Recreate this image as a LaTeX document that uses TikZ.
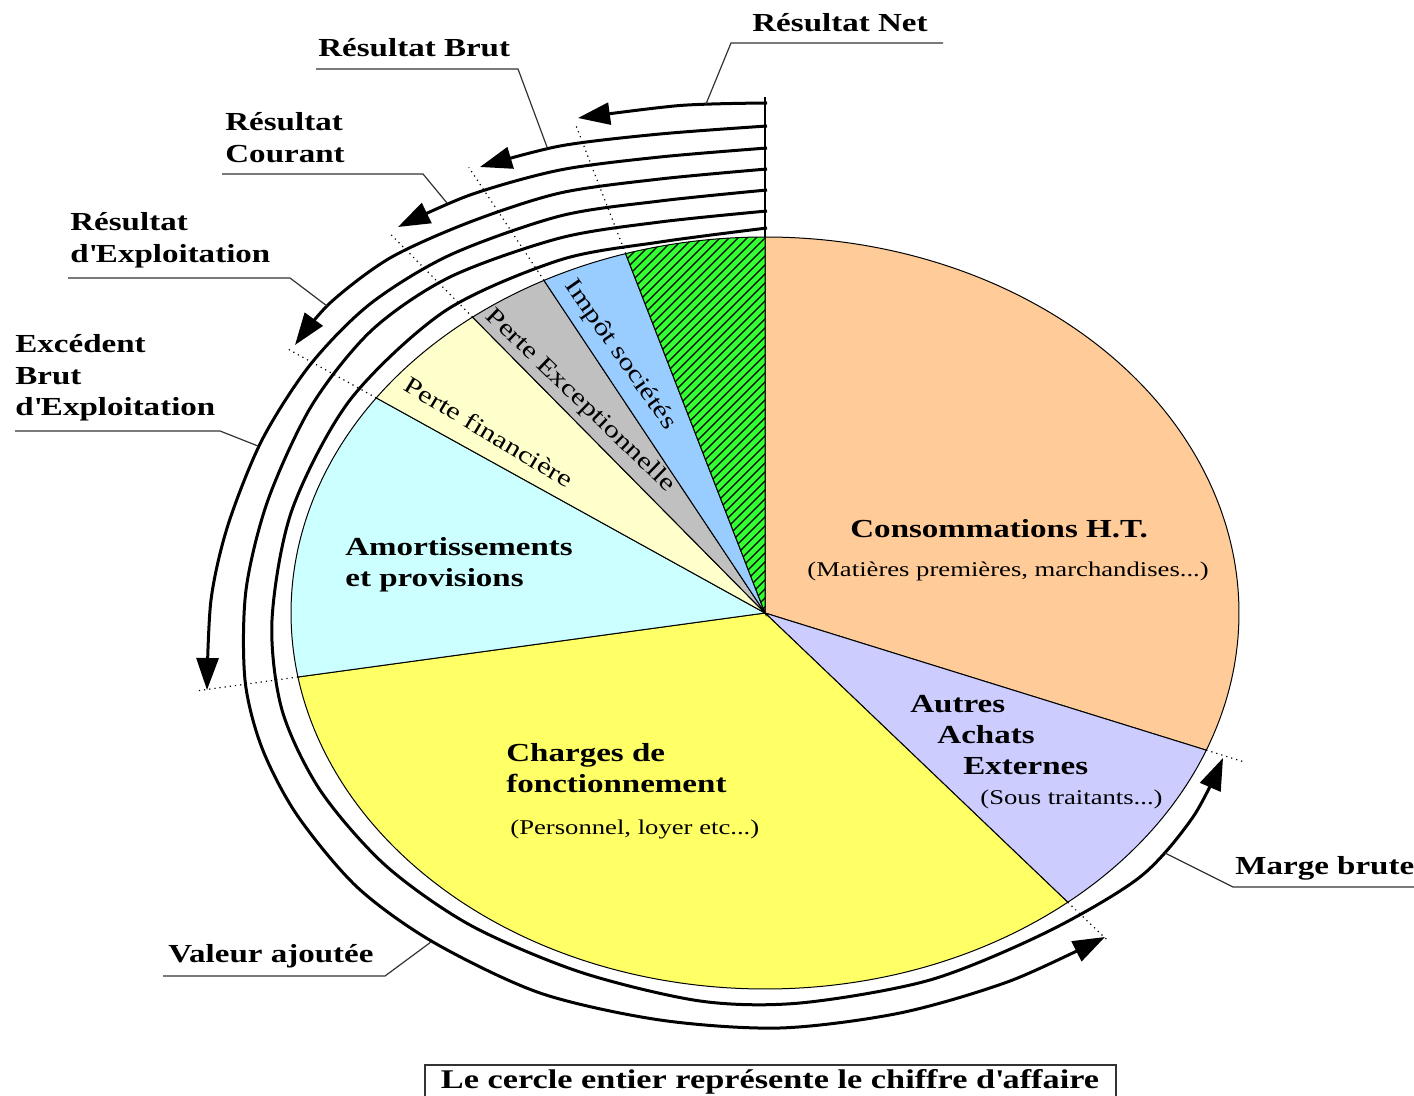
\documentclass[tikz,border=0pt]{standalone}
\usepackage{fontspec}
\setmainfont{Liberation Serif}[FakeStretch=1.27]
\usetikzlibrary{arrows.meta,calc}
\definecolor{cons}{RGB}{255,204,153}
\definecolor{autres}{RGB}{204,204,255}
\definecolor{charges}{RGB}{255,255,102}
\definecolor{amort}{RGB}{204,255,255}
\definecolor{pfin}{RGB}{255,255,204}
\definecolor{pexc}{RGB}{192,192,192}
\definecolor{impot}{RGB}{153,204,255}
\definecolor{netgreen}{RGB}{51,255,51}
\newcommand\mySlice[3]{\filldraw[slice,fill=#3] (C) -- +(#1:474 and 376) arc[start angle=#1,end angle=#2,x radius=474,y radius=376] -- cycle;}
\begin{document}
\begin{tikzpicture}[x=0.5pt,y=-0.5pt,
  slice/.style={draw=black, line width=0.5pt},
  flux/.style={line width=1.5pt, -{Triangle[length=16pt,width=11pt]}},
  ext/.style={dotted, line width=0.6pt},
  leader/.style={line width=0.6pt, draw=black!80},
  lbl/.style={anchor=base west, inner sep=0pt, font=\bfseries\fontsize{13}{15}\selectfont},
  sub/.style={anchor=base west, inner sep=0pt, font=\fontsize{10.5}{12}\selectfont},
  rot/.style={inner sep=0pt, font=\fontsize{12}{14}\selectfont},
]
\useasboundingbox (0,0) rectangle (1414,1096);
\coordinate (C) at (765,613);

% ---- pie slices
\mySlice{-90}{21.4}{cons}
\mySlice{21.4}{50.3}{autres}
\mySlice{50.3}{170.2}{charges}
\mySlice{170.2}{214.9}{amort}
\mySlice{214.9}{231.9}{pfin}
\mySlice{231.9}{242.2}{pexc}
\mySlice{242.2}{252.9}{impot}
\begin{scope}
  \clip (C) -- +(252.9:474 and 376) arc[start angle=252.9,end angle=270,x radius=474,y radius=376] -- cycle;
  \fill[netgreen] (600,200) rectangle (800,640);
  \foreach \c in {850,859,...,1400} \draw[line width=0.7pt] (\c-640,640) -- (\c-200,200);
\end{scope}
\draw[slice] (C) -- +(252.9:474 and 376) arc[start angle=252.9,end angle=270,x radius=474,y radius=376] -- cycle;

% ---- boundary points and dotted extensions
\coordinate (bMB) at ($(C)+(21.4:474 and 376)$);
\coordinate (bVA) at ($(C)+(50.3:474 and 376)$);
\coordinate (bEBE) at ($(C)+(170.2:474 and 376)$);
\coordinate (bRE) at ($(C)+(214.9:474 and 376)$);
\coordinate (bRC) at ($(C)+(231.9:474 and 376)$);
\coordinate (bRB) at ($(C)+(242.2:474 and 376)$);
\coordinate (bRN) at ($(C)+(252.9:474 and 376)$);
\draw[ext] (bMB) -- ($(C)!1.085!(bMB)$);
\draw[ext] (bVA) -- ($(C)!1.135!(bVA)$);
\draw[ext] (bEBE) -- ($(C)!1.22!(bEBE)$);
\draw[ext] (bRE) -- ($(C)!1.225!(bRE)$);
\draw[ext] (bRC) -- ($(C)!1.28!(bRC)$);
\draw[ext] (bRB) -- ($(C)!1.34!(bRB)$);
\draw[ext] (bRN) -- ($(C)!1.36!(bRN)$);

% ---- start line
\coordinate (top) at (765,97);
\coordinate (pietop) at (765,237);
\draw[line width=1pt] (top) -- (pietop);

% ---- flux arcs
\coordinate (tRN) at (578,118);
\coordinate (tRB) at (480,167);
\coordinate (tRC) at (398,227);
\coordinate (tRE) at (295,345);
\coordinate (tEBE) at (207,690);
\coordinate (tVA) at (1105,937);
\coordinate (tMB) at (1223,758);
\draw[flux] plot[smooth] coordinates {(767,103) (680,105.5) (tRN)};
\draw[flux] plot[smooth] coordinates {(767,126) (660,134) (560,146) (tRB)};
\draw[flux] plot[smooth] coordinates {(767,148) (660,157) (560,170) (470,195) (tRC)};
\draw[flux] plot[smooth] coordinates {(767,169) (660,179) (560,193) (470,222) (390,258) (330,303) (tRE)};
\draw[flux] plot[smooth] coordinates {(767,190) (660,201) (560,216) (450,255) (370,304) (310,365) (262,440) (228,525) (211,600) (tEBE)};
\draw[flux] plot[smooth] coordinates {(767,211) (660,222) (560,238) (450,277) (372,330) (312,405) (268,500) (246,590) (245,680) (262,748) (297,815) (357,887) (433,942) (540,993) (660,1020) (780,1028) (900,1013) (1010,981) (tVA)};
\draw[flux] plot[smooth] coordinates {(767,228) (660,242) (560,260) (445,311) (350,400) (292,510) (272,620) (282,710) (320,790) (385,865) (470,925) (580,972) (700,1001) (800,1003) (930,980) (1047,932) (1140,877) (1193,817) (tMB)};

% ---- labels with leaders
\node[lbl] (lRN) at (752,32) {Résultat Net};
\draw[leader] (943,43) -- (731,43) -- (706,104);
\node[lbl] (lRB) at (318,57) {Résultat Brut};
\draw[leader] (316,69) -- (518,69) -- (547,147);
\node[lbl] (lRC1) at (225,131) {Résultat};
\node[lbl] (lRC2) at (225,163) {Courant};
\draw[leader] (222,174) -- (423,174) -- (447,203);
\node[lbl] (lRE1) at (70,231) {Résultat};
\node[lbl] (lRE2) at (70,263) {d\textquotesingle Exploitation};
\draw[leader] (68,278) -- (290,278) -- (327,306);
\node[lbl] (lEBE1) at (15,353) {Excédent};
\node[lbl] (lEBE2) at (15,385) {Brut};
\node[lbl] (lEBE3) at (15,416) {d\textquotesingle Exploitation};
\draw[leader] (15,431) -- (220,431) -- (258,446);
\node[lbl] (lVA) at (168,962) {Valeur ajoutée};
\draw[leader] (163,976) -- (385,976) -- (431,942);
\node[lbl] (lMB) at (1235,874) {Marge brute};
\draw[leader] (1414,887) -- (1233,887) -- (1165,853);

% ---- slice texts
\node[lbl] (cons1) at (850,538) {Consommations H.T.};
\node[sub] (cons2) at (807,576) {(Matières premières, marchandises...)};
\node[lbl] (aut1) at (910,712) {Autres};
\node[lbl] (aut2) at (937,743) {Achats};
\node[lbl] (aut3) at (963,774) {Externes};
\node[sub] (aut4) at (980,804) {(Sous traitants...)};
\node[lbl] (ch1) at (506,761) {Charges de};
\node[lbl] (ch2) at (506,792) {fonctionnement};
\node[sub] (ch3) at (510,834) {(Personnel, loyer etc...)};
\node[lbl] (am1) at (345,555) {Amortissements};
\node[lbl] (am2) at (345,586) {et provisions};
\node[rot,rotate=-31] (pf) at (489,432) {Perte financière};
\node[rot,rotate=-44] (pe) at (580,401) {Perte Exceptionnelle};
\node[rot,rotate=-55] (is) at (620,355) {Impôt sociétés};

% ---- bottom box
\draw[line width=0.8pt, draw=black!80] (425,1065) rectangle (1116,1100);
\node[anchor=base, inner sep=0pt, font=\bfseries\fontsize{13.5}{15}\selectfont] (box) at (770,1088) {Le cercle entier représente le chiffre d\textquotesingle affaire};
\end{tikzpicture}
\end{document}
